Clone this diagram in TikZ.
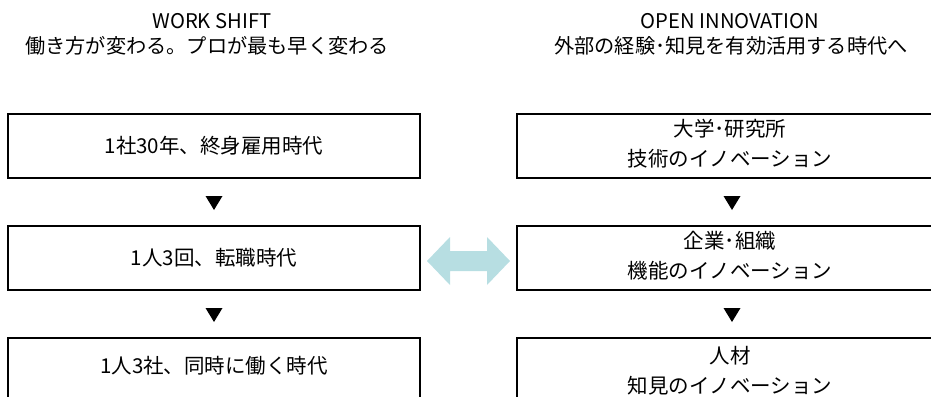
\documentclass[tikz,border=0pt]{standalone}
\usepackage{fontspec}
\setmainfont{Noto Sans CJK JP}
\begin{document}
\begin{tikzpicture}[x=1pt,y=-1pt,
  box/.style={draw=black,line width=2.3pt,fill=white},
  lbl/.style={font=\fontsize{20.5}{30}\selectfont,align=center},
  ttl/.style={font=\fontsize{20.2}{24}\selectfont,anchor=base},
  tri/.style={fill=black},
  dbl/.style={fill=arrowblue,draw=none}]
\definecolor{arrowblue}{HTML}{B7DEE2}
\useasboundingbox (0,0) rectangle (931,396);
\clip (0,0) rectangle (931,396);
% titles
\node[ttl] (t1a) at (212,29) {WORK SHIFT};
\node[ttl] (t1b) at (207,53) {働き方が変わる。プロが最も早く変わる};
\node[ttl] (t2a) at (730,29) {OPEN INNOVATION};
\node[ttl] (t2b) at (731,53) {外部の経験･知見を有効活用する時代へ};
% left boxes
\draw[box] (8,114) rectangle (420,178);
\draw[box] (8,226) rectangle (420,290);
\draw[box] (8,338) rectangle (420,402);
\node[lbl] (l1) at (214,146) {1社30年、終身雇用時代};
\node[lbl] (l2) at (214,258) {1人3回、転職時代};
\node[lbl] (l3) at (214,366) {1人3社、同時に働く時代};
% right boxes
\draw[box] (517,114) rectangle (945,178);
\draw[box] (517,226) rectangle (945,290);
\draw[box] (517,338) rectangle (945,402);
\node[lbl] (r1) at (730,144) {大学･研究所\\技術のイノベーション};
\node[lbl] (r2) at (730,256) {企業･組織\\機能のイノベーション};
\node[lbl] (r3) at (730,371) {人材\\知見のイノベーション};
% down triangles
\foreach \x in {214,732}{
  \foreach \y in {196,308}{
    \fill[tri] (\x-8.5,\y) -- (\x+8.5,\y) -- (\x,\y+14) -- cycle;
  }
}
% double arrow
\fill[dbl] (427,261) -- (450,237) -- (450,251) -- (487,251) -- (487,237) -- (510,261) -- (487,285) -- (487,271) -- (450,271) -- (450,285) -- cycle;
\end{tikzpicture}
\end{document}
